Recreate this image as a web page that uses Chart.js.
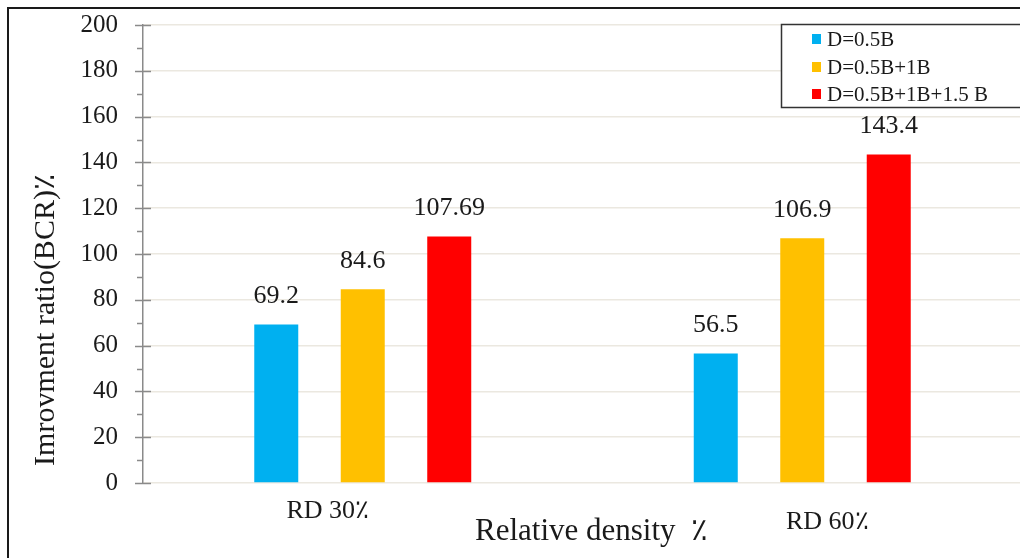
<!DOCTYPE html>
<html><head><meta charset="utf-8">
<script src="https://cdn.jsdelivr.net/npm/chart.js@4/dist/chart.umd.min.js"></script>
<style>
html,body{margin:0;padding:0;overflow:hidden;background:#fff;width:1020px;height:558px}
#wrap{position:absolute;left:0;top:0;width:1024px;height:558px}
</style>
</head><body><div id="wrap"><canvas id="c" width="1024" height="558"></canvas></div>
<script>
const categories = ['RD 30٪', 'RD 60٪'];
const seriesNames = ['D=0.5B', 'D=0.5B+1B', 'D=0.5B+1B+1.5 B'];
const seriesA = [69.2, 56.5];
const seriesB = [84.6, 106.9];
const seriesC = [107.69, 143.4];
const yTickValues = [0, 20, 40, 60, 80, 100, 120, 140, 160, 180, 200];
const xTitle = 'Relative density  ٪';
const yTitle = 'Imrovment ratio(BCR)٪';

const colors = ['#00B0F0', '#FFC000', '#FF0000'];
const serif = "'Liberation Serif','Times New Roman',serif";

const overlay = {
  id: 'overlay',
  afterDatasetsDraw(chart) {
    const ctx = chart.ctx;
    const ys = chart.scales.y, xs = chart.scales.x;
    ctx.save();
    // axis ticks (major + minor)
    ctx.strokeStyle = '#8a8a8a';
    ctx.lineWidth = 1.5;
    for (let v = ys.min; v <= ys.max; v += 10) {
      const y = Math.round(ys.getPixelForValue(v)) + 0.5;
      ctx.beginPath();
      if (v % 20 === 0) { ctx.moveTo(135, y); ctx.lineTo(151, y); }
      else { ctx.moveTo(137, y); ctx.lineTo(143, y); }
      ctx.stroke();
    }
    // data labels
    ctx.fillStyle = '#1a1a1a';
    ctx.font = '26px ' + serif;
    ctx.textAlign = 'center';
    ctx.textBaseline = 'middle';
    chart.data.datasets.forEach((ds, i) => {
      const meta = chart.getDatasetMeta(i);
      meta.data.forEach((el, j) => {
        ctx.fillText(String(ds.data[j]), el.x, el.y - 28);
      });
    });
    // category labels
    const catOffsets = [[-35, 511], [25, 522]];
    categories.forEach((c, i) => {
      ctx.fillText(c, xs.getPixelForValue(i) + catOffsets[i][0], catOffsets[i][1]);
    });
    // x title
    ctx.font = '31px ' + serif;
    ctx.textAlign = 'left';
    ctx.fillText(xTitle, 475, 532);
    // y title
    ctx.save();
    ctx.translate(46, 320);
    ctx.rotate(-Math.PI / 2);
    ctx.textAlign = 'center';
    ctx.font = '30px ' + serif;
    ctx.fillText(yTitle, 0, 0);
    ctx.restore();
    // legend
    ctx.fillStyle = '#ffffff';
    ctx.fillRect(781, 24, 260, 83);
    ctx.strokeStyle = '#333333';
    ctx.lineWidth = 1.5;
    ctx.strokeRect(781.5, 24.5, 260, 83);
    ctx.font = '21px ' + serif;
    ctx.textAlign = 'left';
    const rows = [39, 67, 94];
    chart.data.datasets.forEach((ds, i) => {
      ctx.fillStyle = ds.backgroundColor;
      ctx.fillRect(812, rows[i] - 5, 9, 10);
      ctx.fillStyle = '#1a1a1a';
      ctx.fillText(ds.label, 827, rows[i] + 1);
    });
    // outer frame
    ctx.strokeStyle = '#1a1a1a';
    ctx.lineWidth = 2;
    ctx.beginPath();
    ctx.moveTo(8, 560); ctx.lineTo(8, 8); ctx.lineTo(1030, 8);
    ctx.stroke();
    ctx.restore();
  }
};

new Chart(document.getElementById('c'), {
  type: 'bar',
  data: {
    labels: categories,
    datasets: [
      { label: seriesNames[0], data: seriesA, backgroundColor: colors[0] },
      { label: seriesNames[1], data: seriesB, backgroundColor: colors[1] },
      { label: seriesNames[2], data: seriesC, backgroundColor: colors[2] }
    ]
  },
  options: {
    responsive: false,
    animation: false,
    devicePixelRatio: 1,
    categoryPercentage: 0.5904,
    barPercentage: 0.5087,
    layout: { padding: { top: 25, bottom: 75, left: 0, right: 2 } },
    plugins: { legend: { display: false }, tooltip: { enabled: false } },
    scales: {
      x: { display: false },
      y: {
        min: 0, max: 200,
        afterFit(s) { s.width = 143; s.paddingTop = 0; s.paddingBottom = 0; },
        afterBuildTicks(s) { s.ticks = yTickValues.map(v => ({ value: v })); },
        ticks: { font: { family: serif, size: 25 }, color: '#1a1a1a', padding: 25 },
        grid: { color: '#ebe8e0', lineWidth: 1.5, drawTicks: false },
        border: { color: '#8a8a8a', width: 1.5 }
      }
    }
  },
  plugins: [overlay]
});
</script>
</body></html>
